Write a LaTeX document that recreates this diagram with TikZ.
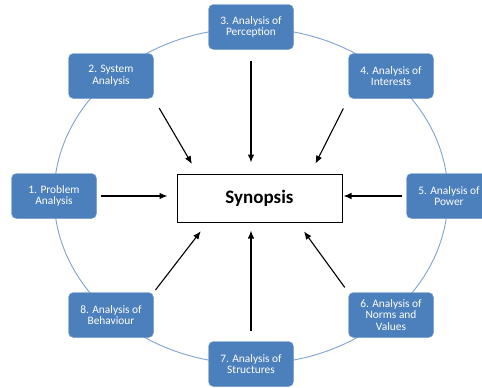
\documentclass[tikz,border=0pt]{standalone}
\usepackage{fontspec}
\setmainfont{Carlito}
\usetikzlibrary{shapes.geometric, arrows, arrows.meta, positioning, shapes}
\definecolor{nodeblue}{RGB}{76,128,188}
\definecolor{ringblue}{RGB}{128,162,206}
\begin{document}
\begin{tikzpicture}[x=1pt, y=1pt]
		% Define elements
		\tikzstyle{line} = [draw, -{Latex[length=8pt, width=6.5pt]}, line width=1.1pt]
		\tikzstyle{block} = [rectangle, draw=nodeblue!80!white, fill=nodeblue, text=white,
		    align=center, rounded corners=5pt, minimum width=85pt, minimum height=45pt,
		    font=\fontsize{11.4}{11.7}\selectfont, inner sep=1pt]
		\tikzstyle{ring} = [draw=ringblue, line width=0.9pt]
		\useasboundingbox (0,0) rectangle (482,-388);
		%% Ring
		\path [ring] (251,-196) ellipse [x radius=197, y radius=168];
		%% Analyses
		\node [name = prob, block] at (54,-196) {1. Problem\\Analysis};
		\node [name = sys, block] at (111,-76) {2. System\\Analysis};
		\node [name = perc, block] at (251,-27) {3. Analysis of\\Perception};
		\node [name = inter, block] at (391,-76) {4. Analysis of\\Interests};
		\node [name = pow, block] at (449,-196) {5. Analysis of\\Power};
		\node [name = norms, block] at (391,-315) {6. Analysis of\\Norms and\\Values};
		\node [name = struc, block] at (251,-364) {7. Analysis of\\Structures};
		\node [name = behav, block] at (111,-315) {8. Analysis of\\Behaviour};
		%% Synopsis
		\node [name = syn, rectangle, draw, line width=1pt, minimum width=165pt, minimum height=48pt,
		    font=\fontsize{19}{22}\selectfont\bfseries] at (259.5,-198) {Synopsis};
	% arrows
		\path [line, shorten <=11pt, shorten >=11pt] (sys.south east) -- ([xshift=21pt]syn.north west);
		\path [line, shorten <=11pt, shorten >=11pt] (perc.south) -- ([xshift=-8.5pt]syn.north);
		\path [line, shorten <=11pt, shorten >=11pt] (inter.south west) -- ([xshift=-32pt]syn.north east);
		\path [line, shorten <=4pt, shorten >=9pt] (prob.east) -- (syn.west |- prob.east);
		\path [line, shorten <=4pt, shorten >=1pt] (pow.west) -- (syn.east |- pow.west);
		\path [line, shorten <=3pt, shorten >=11pt] (behav.north east) -- ([xshift=31pt]syn.south west);
		\path [line, shorten <=6pt, shorten >=11pt] (norms.north west) -- ([xshift=-45pt]syn.south east);
		\path [line, shorten <=10pt, shorten >=8pt] (struc.north) -- ([xshift=-8.5pt]syn.south);
	\end{tikzpicture}
\end{document}
